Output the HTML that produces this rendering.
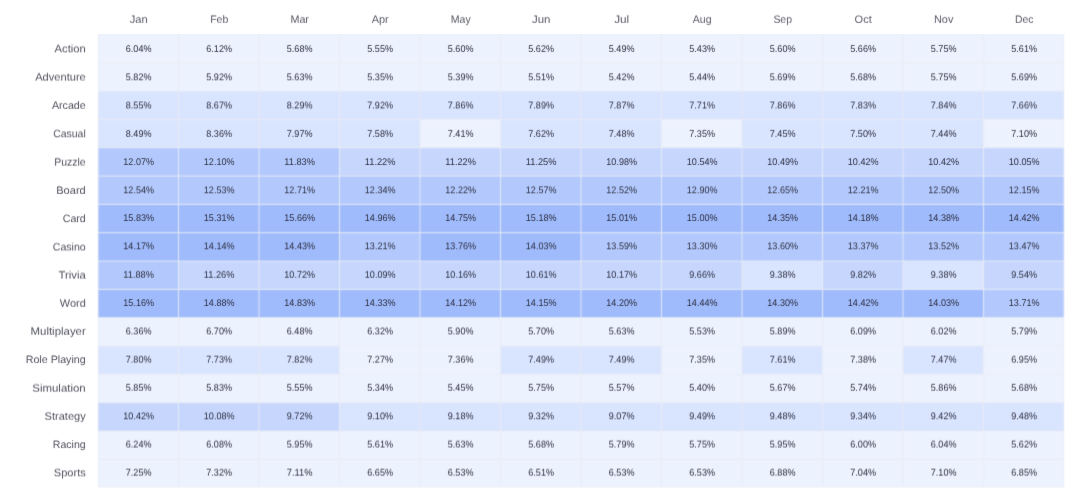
<!DOCTYPE html>
<html lang="en"><head><meta charset="utf-8"><title>Genre share by month</title>
<style>html,body{margin:0;padding:0;background:#fff}body{width:1080px;height:504px;overflow:hidden}svg{display:block}text{font-family:"Liberation Sans",sans-serif;text-rendering:geometricPrecision}.v{font-size:9.7px;fill:#2d2f40;text-anchor:middle}.l{font-size:10.8px;fill:#50515e;text-anchor:end}.h{font-size:10.8px;fill:#585966;text-anchor:middle}</style></head><body>
<svg width="1080" height="504" viewBox="0 0 1080 504">
<defs><filter id="b" x="0" y="0" width="100%" height="100%" filterUnits="userSpaceOnUse" color-interpolation-filters="sRGB"><feConvolveMatrix order="3" kernelMatrix="0.0361 0.1178 0.0361 0.1178 0.3844 0.1178 0.0361 0.1178 0.0361" edgeMode="duplicate" preserveAlpha="false"/></filter><filter id="th" x="0" y="0" width="100%" height="100%" filterUnits="userSpaceOnUse" color-interpolation-filters="sRGB"><feConvolveMatrix order="3" kernelMatrix="0.0096 0.1408 0.0096 0.0468 0.6864 0.0468 0.0036 0.0528 0.0036" edgeMode="duplicate" preserveAlpha="false"/></filter><filter id="t0" x="0" y="0" width="100%" height="100%" filterUnits="userSpaceOnUse" color-interpolation-filters="sRGB"><feConvolveMatrix order="3" kernelMatrix="0.0066 0.0968 0.0066 0.0498 0.7304 0.0498 0.0036 0.0528 0.0036" edgeMode="duplicate" preserveAlpha="false"/></filter><filter id="t1" x="0" y="0" width="100%" height="100%" filterUnits="userSpaceOnUse" color-interpolation-filters="sRGB"><feConvolveMatrix order="3" kernelMatrix="0.0036 0.0528 0.0036 0.0378 0.5544 0.0378 0.0186 0.2728 0.0186" edgeMode="duplicate" preserveAlpha="false"/></filter><filter id="t2" x="0" y="0" width="100%" height="100%" filterUnits="userSpaceOnUse" color-interpolation-filters="sRGB"><feConvolveMatrix order="3" kernelMatrix="0.0306 0.4488 0.0306 0.0258 0.3784 0.0258 0.0036 0.0528 0.0036" edgeMode="duplicate" preserveAlpha="false"/></filter><filter id="t3" x="0" y="0" width="100%" height="100%" filterUnits="userSpaceOnUse" color-interpolation-filters="sRGB"><feConvolveMatrix order="3" kernelMatrix="0.0096 0.1408 0.0096 0.0468 0.6864 0.0468 0.0036 0.0528 0.0036" edgeMode="duplicate" preserveAlpha="false"/></filter><filter id="t4" x="0" y="0" width="100%" height="100%" filterUnits="userSpaceOnUse" color-interpolation-filters="sRGB"><feConvolveMatrix order="3" kernelMatrix="0.0036 0.0528 0.0036 0.0528 0.7744 0.0528 0.0036 0.0528 0.0036" edgeMode="duplicate" preserveAlpha="false"/></filter><filter id="t5" x="0" y="0" width="100%" height="100%" filterUnits="userSpaceOnUse" color-interpolation-filters="sRGB"><feConvolveMatrix order="3" kernelMatrix="0.0036 0.0528 0.0036 0.0378 0.5544 0.0378 0.0186 0.2728 0.0186" edgeMode="duplicate" preserveAlpha="false"/></filter><filter id="t6" x="0" y="0" width="100%" height="100%" filterUnits="userSpaceOnUse" color-interpolation-filters="sRGB"><feConvolveMatrix order="3" kernelMatrix="0.0036 0.0528 0.0036 0.0528 0.7744 0.0528 0.0036 0.0528 0.0036" edgeMode="duplicate" preserveAlpha="false"/></filter><filter id="t7" x="0" y="0" width="100%" height="100%" filterUnits="userSpaceOnUse" color-interpolation-filters="sRGB"><feConvolveMatrix order="3" kernelMatrix="0.0036 0.0528 0.0036 0.0378 0.5544 0.0378 0.0186 0.2728 0.0186" edgeMode="duplicate" preserveAlpha="false"/></filter><filter id="t8" x="0" y="0" width="100%" height="100%" filterUnits="userSpaceOnUse" color-interpolation-filters="sRGB"><feConvolveMatrix order="3" kernelMatrix="0.0156 0.2288 0.0156 0.0408 0.5984 0.0408 0.0036 0.0528 0.0036" edgeMode="duplicate" preserveAlpha="false"/></filter><filter id="t9" x="0" y="0" width="100%" height="100%" filterUnits="userSpaceOnUse" color-interpolation-filters="sRGB"><feConvolveMatrix order="3" kernelMatrix="0.0036 0.0528 0.0036 0.0528 0.7744 0.0528 0.0036 0.0528 0.0036" edgeMode="duplicate" preserveAlpha="false"/></filter><filter id="t10" x="0" y="0" width="100%" height="100%" filterUnits="userSpaceOnUse" color-interpolation-filters="sRGB"><feConvolveMatrix order="3" kernelMatrix="0.0036 0.0528 0.0036 0.0318 0.4664 0.0318 0.0246 0.3608 0.0246" edgeMode="duplicate" preserveAlpha="false"/></filter><filter id="t11" x="0" y="0" width="100%" height="100%" filterUnits="userSpaceOnUse" color-interpolation-filters="sRGB"><feConvolveMatrix order="3" kernelMatrix="0.0216 0.3168 0.0216 0.0348 0.5104 0.0348 0.0036 0.0528 0.0036" edgeMode="duplicate" preserveAlpha="false"/></filter><filter id="t12" x="0" y="0" width="100%" height="100%" filterUnits="userSpaceOnUse" color-interpolation-filters="sRGB"><feConvolveMatrix order="3" kernelMatrix="0.0156 0.2288 0.0156 0.0408 0.5984 0.0408 0.0036 0.0528 0.0036" edgeMode="duplicate" preserveAlpha="false"/></filter><filter id="t13" x="0" y="0" width="100%" height="100%" filterUnits="userSpaceOnUse" color-interpolation-filters="sRGB"><feConvolveMatrix order="3" kernelMatrix="0.0036 0.0528 0.0036 0.0378 0.5544 0.0378 0.0186 0.2728 0.0186" edgeMode="duplicate" preserveAlpha="false"/></filter><filter id="t14" x="0" y="0" width="100%" height="100%" filterUnits="userSpaceOnUse" color-interpolation-filters="sRGB"><feConvolveMatrix order="3" kernelMatrix="0.0036 0.0528 0.0036 0.0258 0.3784 0.0258 0.0306 0.4488 0.0306" edgeMode="duplicate" preserveAlpha="false"/></filter><filter id="t15" x="0" y="0" width="100%" height="100%" filterUnits="userSpaceOnUse" color-interpolation-filters="sRGB"><feConvolveMatrix order="3" kernelMatrix="0.0216 0.3168 0.0216 0.0348 0.5104 0.0348 0.0036 0.0528 0.0036" edgeMode="duplicate" preserveAlpha="false"/></filter><filter id="l0" x="0" y="0" width="100%" height="100%" filterUnits="userSpaceOnUse" color-interpolation-filters="sRGB"><feConvolveMatrix order="3" kernelMatrix="0.0036 0.0528 0.0036 0.0348 0.5104 0.0348 0.0216 0.3168 0.0216" edgeMode="duplicate" preserveAlpha="false"/></filter><filter id="l1" x="0" y="0" width="100%" height="100%" filterUnits="userSpaceOnUse" color-interpolation-filters="sRGB"><feConvolveMatrix order="3" kernelMatrix="0.0246 0.3608 0.0246 0.0318 0.4664 0.0318 0.0036 0.0528 0.0036" edgeMode="duplicate" preserveAlpha="false"/></filter><filter id="l2" x="0" y="0" width="100%" height="100%" filterUnits="userSpaceOnUse" color-interpolation-filters="sRGB"><feConvolveMatrix order="3" kernelMatrix="0.0096 0.1408 0.0096 0.0468 0.6864 0.0468 0.0036 0.0528 0.0036" edgeMode="duplicate" preserveAlpha="false"/></filter><filter id="l3" x="0" y="0" width="100%" height="100%" filterUnits="userSpaceOnUse" color-interpolation-filters="sRGB"><feConvolveMatrix order="3" kernelMatrix="0.0036 0.0528 0.0036 0.0378 0.5544 0.0378 0.0186 0.2728 0.0186" edgeMode="duplicate" preserveAlpha="false"/></filter><filter id="l4" x="0" y="0" width="100%" height="100%" filterUnits="userSpaceOnUse" color-interpolation-filters="sRGB"><feConvolveMatrix order="3" kernelMatrix="0.0216 0.3168 0.0216 0.0348 0.5104 0.0348 0.0036 0.0528 0.0036" edgeMode="duplicate" preserveAlpha="false"/></filter><filter id="l5" x="0" y="0" width="100%" height="100%" filterUnits="userSpaceOnUse" color-interpolation-filters="sRGB"><feConvolveMatrix order="3" kernelMatrix="0.0096 0.1408 0.0096 0.0468 0.6864 0.0468 0.0036 0.0528 0.0036" edgeMode="duplicate" preserveAlpha="false"/></filter><filter id="l6" x="0" y="0" width="100%" height="100%" filterUnits="userSpaceOnUse" color-interpolation-filters="sRGB"><feConvolveMatrix order="3" kernelMatrix="0.0036 0.0528 0.0036 0.0468 0.6864 0.0468 0.0096 0.1408 0.0096" edgeMode="duplicate" preserveAlpha="false"/></filter><filter id="l7" x="0" y="0" width="100%" height="100%" filterUnits="userSpaceOnUse" color-interpolation-filters="sRGB"><feConvolveMatrix order="3" kernelMatrix="0.0306 0.4488 0.0306 0.0258 0.3784 0.0258 0.0036 0.0528 0.0036" edgeMode="duplicate" preserveAlpha="false"/></filter><filter id="l8" x="0" y="0" width="100%" height="100%" filterUnits="userSpaceOnUse" color-interpolation-filters="sRGB"><feConvolveMatrix order="3" kernelMatrix="0.0246 0.3608 0.0246 0.0318 0.4664 0.0318 0.0036 0.0528 0.0036" edgeMode="duplicate" preserveAlpha="false"/></filter><filter id="l9" x="0" y="0" width="100%" height="100%" filterUnits="userSpaceOnUse" color-interpolation-filters="sRGB"><feConvolveMatrix order="3" kernelMatrix="0.0156 0.2288 0.0156 0.0408 0.5984 0.0408 0.0036 0.0528 0.0036" edgeMode="duplicate" preserveAlpha="false"/></filter><filter id="l10" x="0" y="0" width="100%" height="100%" filterUnits="userSpaceOnUse" color-interpolation-filters="sRGB"><feConvolveMatrix order="3" kernelMatrix="0.0156 0.2288 0.0156 0.0408 0.5984 0.0408 0.0036 0.0528 0.0036" edgeMode="duplicate" preserveAlpha="false"/></filter><filter id="l11" x="0" y="0" width="100%" height="100%" filterUnits="userSpaceOnUse" color-interpolation-filters="sRGB"><feConvolveMatrix order="3" kernelMatrix="0.0036 0.0528 0.0036 0.0498 0.7304 0.0498 0.0066 0.0968 0.0066" edgeMode="duplicate" preserveAlpha="false"/></filter><filter id="l12" x="0" y="0" width="100%" height="100%" filterUnits="userSpaceOnUse" color-interpolation-filters="sRGB"><feConvolveMatrix order="3" kernelMatrix="0.0216 0.3168 0.0216 0.0348 0.5104 0.0348 0.0036 0.0528 0.0036" edgeMode="duplicate" preserveAlpha="false"/></filter><filter id="l13" x="0" y="0" width="100%" height="100%" filterUnits="userSpaceOnUse" color-interpolation-filters="sRGB"><feConvolveMatrix order="3" kernelMatrix="0.0156 0.2288 0.0156 0.0408 0.5984 0.0408 0.0036 0.0528 0.0036" edgeMode="duplicate" preserveAlpha="false"/></filter><filter id="l14" x="0" y="0" width="100%" height="100%" filterUnits="userSpaceOnUse" color-interpolation-filters="sRGB"><feConvolveMatrix order="3" kernelMatrix="0.0036 0.0528 0.0036 0.0498 0.7304 0.0498 0.0066 0.0968 0.0066" edgeMode="duplicate" preserveAlpha="false"/></filter><filter id="l15" x="0" y="0" width="100%" height="100%" filterUnits="userSpaceOnUse" color-interpolation-filters="sRGB"><feConvolveMatrix order="3" kernelMatrix="0.0036 0.0528 0.0036 0.0348 0.5104 0.0348 0.0216 0.3168 0.0216" edgeMode="duplicate" preserveAlpha="false"/></filter></defs>
<rect width="1080" height="504" fill="#fff"/>
<clipPath id="c"><rect x="97.80" y="34.00" width="966.50" height="453.60"/></clipPath>
<g clip-path="url(#c)"><g filter="url(#b)">
<rect x="95.00" y="31.40" width="83.55" height="31.38" fill="#ECF2FE"/>
<rect x="178.50" y="31.40" width="80.55" height="31.38" fill="#ECF2FE"/>
<rect x="259.00" y="31.40" width="80.55" height="31.38" fill="#ECF2FE"/>
<rect x="339.50" y="31.40" width="80.55" height="31.38" fill="#ECF2FE"/>
<rect x="420.00" y="31.40" width="80.55" height="31.38" fill="#ECF2FE"/>
<rect x="500.50" y="31.40" width="80.55" height="31.38" fill="#ECF2FE"/>
<rect x="581.00" y="31.40" width="80.55" height="31.38" fill="#ECF2FE"/>
<rect x="661.50" y="31.40" width="80.55" height="31.38" fill="#ECF2FE"/>
<rect x="742.00" y="31.40" width="80.55" height="31.38" fill="#ECF2FE"/>
<rect x="822.50" y="31.40" width="80.55" height="31.38" fill="#ECF2FE"/>
<rect x="903.00" y="31.40" width="80.55" height="31.38" fill="#ECF2FE"/>
<rect x="983.50" y="31.40" width="83.50" height="31.38" fill="#ECF2FE"/>
<rect x="95.00" y="62.73" width="83.55" height="28.38" fill="#ECF2FE"/>
<rect x="178.50" y="62.73" width="80.55" height="28.38" fill="#ECF2FE"/>
<rect x="259.00" y="62.73" width="80.55" height="28.38" fill="#ECF2FE"/>
<rect x="339.50" y="62.73" width="80.55" height="28.38" fill="#ECF2FE"/>
<rect x="420.00" y="62.73" width="80.55" height="28.38" fill="#ECF2FE"/>
<rect x="500.50" y="62.73" width="80.55" height="28.38" fill="#ECF2FE"/>
<rect x="581.00" y="62.73" width="80.55" height="28.38" fill="#ECF2FE"/>
<rect x="661.50" y="62.73" width="80.55" height="28.38" fill="#ECF2FE"/>
<rect x="742.00" y="62.73" width="80.55" height="28.38" fill="#ECF2FE"/>
<rect x="822.50" y="62.73" width="80.55" height="28.38" fill="#ECF2FE"/>
<rect x="903.00" y="62.73" width="80.55" height="28.38" fill="#ECF2FE"/>
<rect x="983.50" y="62.73" width="83.50" height="28.38" fill="#ECF2FE"/>
<rect x="95.00" y="91.07" width="83.55" height="28.38" fill="#D9E4FE"/>
<rect x="178.50" y="91.07" width="80.55" height="28.38" fill="#D9E4FE"/>
<rect x="259.00" y="91.07" width="80.55" height="28.38" fill="#D9E4FE"/>
<rect x="339.50" y="91.07" width="80.55" height="28.38" fill="#D9E4FE"/>
<rect x="420.00" y="91.07" width="80.55" height="28.38" fill="#D9E4FE"/>
<rect x="500.50" y="91.07" width="80.55" height="28.38" fill="#D9E4FE"/>
<rect x="581.00" y="91.07" width="80.55" height="28.38" fill="#D9E4FE"/>
<rect x="661.50" y="91.07" width="80.55" height="28.38" fill="#D9E4FE"/>
<rect x="742.00" y="91.07" width="80.55" height="28.38" fill="#D9E4FE"/>
<rect x="822.50" y="91.07" width="80.55" height="28.38" fill="#D9E4FE"/>
<rect x="903.00" y="91.07" width="80.55" height="28.38" fill="#D9E4FE"/>
<rect x="983.50" y="91.07" width="83.50" height="28.38" fill="#D9E4FE"/>
<rect x="95.00" y="119.40" width="83.55" height="28.38" fill="#D9E4FE"/>
<rect x="178.50" y="119.40" width="80.55" height="28.38" fill="#D9E4FE"/>
<rect x="259.00" y="119.40" width="80.55" height="28.38" fill="#D9E4FE"/>
<rect x="339.50" y="119.40" width="80.55" height="28.38" fill="#D9E4FE"/>
<rect x="420.00" y="119.40" width="80.55" height="28.38" fill="#ECF2FE"/>
<rect x="500.50" y="119.40" width="80.55" height="28.38" fill="#D9E4FE"/>
<rect x="581.00" y="119.40" width="80.55" height="28.38" fill="#D9E4FE"/>
<rect x="661.50" y="119.40" width="80.55" height="28.38" fill="#ECF2FE"/>
<rect x="742.00" y="119.40" width="80.55" height="28.38" fill="#D9E4FE"/>
<rect x="822.50" y="119.40" width="80.55" height="28.38" fill="#D9E4FE"/>
<rect x="903.00" y="119.40" width="80.55" height="28.38" fill="#D9E4FE"/>
<rect x="983.50" y="119.40" width="83.50" height="28.38" fill="#ECF2FE"/>
<rect x="95.00" y="147.74" width="83.55" height="28.38" fill="#B3C9FD"/>
<rect x="178.50" y="147.74" width="80.55" height="28.38" fill="#B3C9FD"/>
<rect x="259.00" y="147.74" width="80.55" height="28.38" fill="#B3C9FD"/>
<rect x="339.50" y="147.74" width="80.55" height="28.38" fill="#C6D6FD"/>
<rect x="420.00" y="147.74" width="80.55" height="28.38" fill="#C6D6FD"/>
<rect x="500.50" y="147.74" width="80.55" height="28.38" fill="#C6D6FD"/>
<rect x="581.00" y="147.74" width="80.55" height="28.38" fill="#C6D6FD"/>
<rect x="661.50" y="147.74" width="80.55" height="28.38" fill="#C6D6FD"/>
<rect x="742.00" y="147.74" width="80.55" height="28.38" fill="#C6D6FD"/>
<rect x="822.50" y="147.74" width="80.55" height="28.38" fill="#C6D6FD"/>
<rect x="903.00" y="147.74" width="80.55" height="28.38" fill="#C6D6FD"/>
<rect x="983.50" y="147.74" width="83.50" height="28.38" fill="#C6D6FD"/>
<rect x="95.00" y="176.07" width="83.55" height="28.38" fill="#B3C9FD"/>
<rect x="178.50" y="176.07" width="80.55" height="28.38" fill="#B3C9FD"/>
<rect x="259.00" y="176.07" width="80.55" height="28.38" fill="#B3C9FD"/>
<rect x="339.50" y="176.07" width="80.55" height="28.38" fill="#B3C9FD"/>
<rect x="420.00" y="176.07" width="80.55" height="28.38" fill="#B3C9FD"/>
<rect x="500.50" y="176.07" width="80.55" height="28.38" fill="#B3C9FD"/>
<rect x="581.00" y="176.07" width="80.55" height="28.38" fill="#B3C9FD"/>
<rect x="661.50" y="176.07" width="80.55" height="28.38" fill="#B3C9FD"/>
<rect x="742.00" y="176.07" width="80.55" height="28.38" fill="#B3C9FD"/>
<rect x="822.50" y="176.07" width="80.55" height="28.38" fill="#B3C9FD"/>
<rect x="903.00" y="176.07" width="80.55" height="28.38" fill="#B3C9FD"/>
<rect x="983.50" y="176.07" width="83.50" height="28.38" fill="#B3C9FD"/>
<rect x="95.00" y="204.41" width="83.55" height="28.38" fill="#9FBBFC"/>
<rect x="178.50" y="204.41" width="80.55" height="28.38" fill="#9FBBFC"/>
<rect x="259.00" y="204.41" width="80.55" height="28.38" fill="#9FBBFC"/>
<rect x="339.50" y="204.41" width="80.55" height="28.38" fill="#9FBBFC"/>
<rect x="420.00" y="204.41" width="80.55" height="28.38" fill="#9FBBFC"/>
<rect x="500.50" y="204.41" width="80.55" height="28.38" fill="#9FBBFC"/>
<rect x="581.00" y="204.41" width="80.55" height="28.38" fill="#9FBBFC"/>
<rect x="661.50" y="204.41" width="80.55" height="28.38" fill="#9FBBFC"/>
<rect x="742.00" y="204.41" width="80.55" height="28.38" fill="#9FBBFC"/>
<rect x="822.50" y="204.41" width="80.55" height="28.38" fill="#9FBBFC"/>
<rect x="903.00" y="204.41" width="80.55" height="28.38" fill="#9FBBFC"/>
<rect x="983.50" y="204.41" width="83.50" height="28.38" fill="#9FBBFC"/>
<rect x="95.00" y="232.74" width="83.55" height="28.38" fill="#9FBBFC"/>
<rect x="178.50" y="232.74" width="80.55" height="28.38" fill="#9FBBFC"/>
<rect x="259.00" y="232.74" width="80.55" height="28.38" fill="#9FBBFC"/>
<rect x="339.50" y="232.74" width="80.55" height="28.38" fill="#B3C9FD"/>
<rect x="420.00" y="232.74" width="80.55" height="28.38" fill="#9FBBFC"/>
<rect x="500.50" y="232.74" width="80.55" height="28.38" fill="#9FBBFC"/>
<rect x="581.00" y="232.74" width="80.55" height="28.38" fill="#B3C9FD"/>
<rect x="661.50" y="232.74" width="80.55" height="28.38" fill="#B3C9FD"/>
<rect x="742.00" y="232.74" width="80.55" height="28.38" fill="#B3C9FD"/>
<rect x="822.50" y="232.74" width="80.55" height="28.38" fill="#B3C9FD"/>
<rect x="903.00" y="232.74" width="80.55" height="28.38" fill="#B3C9FD"/>
<rect x="983.50" y="232.74" width="83.50" height="28.38" fill="#B3C9FD"/>
<rect x="95.00" y="261.07" width="83.55" height="28.38" fill="#B3C9FD"/>
<rect x="178.50" y="261.07" width="80.55" height="28.38" fill="#C6D6FD"/>
<rect x="259.00" y="261.07" width="80.55" height="28.38" fill="#C6D6FD"/>
<rect x="339.50" y="261.07" width="80.55" height="28.38" fill="#C6D6FD"/>
<rect x="420.00" y="261.07" width="80.55" height="28.38" fill="#C6D6FD"/>
<rect x="500.50" y="261.07" width="80.55" height="28.38" fill="#C6D6FD"/>
<rect x="581.00" y="261.07" width="80.55" height="28.38" fill="#C6D6FD"/>
<rect x="661.50" y="261.07" width="80.55" height="28.38" fill="#C6D6FD"/>
<rect x="742.00" y="261.07" width="80.55" height="28.38" fill="#D9E4FE"/>
<rect x="822.50" y="261.07" width="80.55" height="28.38" fill="#C6D6FD"/>
<rect x="903.00" y="261.07" width="80.55" height="28.38" fill="#D9E4FE"/>
<rect x="983.50" y="261.07" width="83.50" height="28.38" fill="#C6D6FD"/>
<rect x="95.00" y="289.41" width="83.55" height="28.38" fill="#9FBBFC"/>
<rect x="178.50" y="289.41" width="80.55" height="28.38" fill="#9FBBFC"/>
<rect x="259.00" y="289.41" width="80.55" height="28.38" fill="#9FBBFC"/>
<rect x="339.50" y="289.41" width="80.55" height="28.38" fill="#9FBBFC"/>
<rect x="420.00" y="289.41" width="80.55" height="28.38" fill="#9FBBFC"/>
<rect x="500.50" y="289.41" width="80.55" height="28.38" fill="#9FBBFC"/>
<rect x="581.00" y="289.41" width="80.55" height="28.38" fill="#9FBBFC"/>
<rect x="661.50" y="289.41" width="80.55" height="28.38" fill="#9FBBFC"/>
<rect x="742.00" y="289.41" width="80.55" height="28.38" fill="#9FBBFC"/>
<rect x="822.50" y="289.41" width="80.55" height="28.38" fill="#9FBBFC"/>
<rect x="903.00" y="289.41" width="80.55" height="28.38" fill="#9FBBFC"/>
<rect x="983.50" y="289.41" width="83.50" height="28.38" fill="#B3C9FD"/>
<rect x="95.00" y="317.74" width="83.55" height="28.38" fill="#ECF2FE"/>
<rect x="178.50" y="317.74" width="80.55" height="28.38" fill="#ECF2FE"/>
<rect x="259.00" y="317.74" width="80.55" height="28.38" fill="#ECF2FE"/>
<rect x="339.50" y="317.74" width="80.55" height="28.38" fill="#ECF2FE"/>
<rect x="420.00" y="317.74" width="80.55" height="28.38" fill="#ECF2FE"/>
<rect x="500.50" y="317.74" width="80.55" height="28.38" fill="#ECF2FE"/>
<rect x="581.00" y="317.74" width="80.55" height="28.38" fill="#ECF2FE"/>
<rect x="661.50" y="317.74" width="80.55" height="28.38" fill="#ECF2FE"/>
<rect x="742.00" y="317.74" width="80.55" height="28.38" fill="#ECF2FE"/>
<rect x="822.50" y="317.74" width="80.55" height="28.38" fill="#ECF2FE"/>
<rect x="903.00" y="317.74" width="80.55" height="28.38" fill="#ECF2FE"/>
<rect x="983.50" y="317.74" width="83.50" height="28.38" fill="#ECF2FE"/>
<rect x="95.00" y="346.08" width="83.55" height="28.38" fill="#D9E4FE"/>
<rect x="178.50" y="346.08" width="80.55" height="28.38" fill="#D9E4FE"/>
<rect x="259.00" y="346.08" width="80.55" height="28.38" fill="#D9E4FE"/>
<rect x="339.50" y="346.08" width="80.55" height="28.38" fill="#ECF2FE"/>
<rect x="420.00" y="346.08" width="80.55" height="28.38" fill="#ECF2FE"/>
<rect x="500.50" y="346.08" width="80.55" height="28.38" fill="#D9E4FE"/>
<rect x="581.00" y="346.08" width="80.55" height="28.38" fill="#D9E4FE"/>
<rect x="661.50" y="346.08" width="80.55" height="28.38" fill="#ECF2FE"/>
<rect x="742.00" y="346.08" width="80.55" height="28.38" fill="#D9E4FE"/>
<rect x="822.50" y="346.08" width="80.55" height="28.38" fill="#ECF2FE"/>
<rect x="903.00" y="346.08" width="80.55" height="28.38" fill="#D9E4FE"/>
<rect x="983.50" y="346.08" width="83.50" height="28.38" fill="#ECF2FE"/>
<rect x="95.00" y="374.41" width="83.55" height="28.38" fill="#ECF2FE"/>
<rect x="178.50" y="374.41" width="80.55" height="28.38" fill="#ECF2FE"/>
<rect x="259.00" y="374.41" width="80.55" height="28.38" fill="#ECF2FE"/>
<rect x="339.50" y="374.41" width="80.55" height="28.38" fill="#ECF2FE"/>
<rect x="420.00" y="374.41" width="80.55" height="28.38" fill="#ECF2FE"/>
<rect x="500.50" y="374.41" width="80.55" height="28.38" fill="#ECF2FE"/>
<rect x="581.00" y="374.41" width="80.55" height="28.38" fill="#ECF2FE"/>
<rect x="661.50" y="374.41" width="80.55" height="28.38" fill="#ECF2FE"/>
<rect x="742.00" y="374.41" width="80.55" height="28.38" fill="#ECF2FE"/>
<rect x="822.50" y="374.41" width="80.55" height="28.38" fill="#ECF2FE"/>
<rect x="903.00" y="374.41" width="80.55" height="28.38" fill="#ECF2FE"/>
<rect x="983.50" y="374.41" width="83.50" height="28.38" fill="#ECF2FE"/>
<rect x="95.00" y="402.75" width="83.55" height="28.38" fill="#C6D6FD"/>
<rect x="178.50" y="402.75" width="80.55" height="28.38" fill="#C6D6FD"/>
<rect x="259.00" y="402.75" width="80.55" height="28.38" fill="#C6D6FD"/>
<rect x="339.50" y="402.75" width="80.55" height="28.38" fill="#D9E4FE"/>
<rect x="420.00" y="402.75" width="80.55" height="28.38" fill="#D9E4FE"/>
<rect x="500.50" y="402.75" width="80.55" height="28.38" fill="#D9E4FE"/>
<rect x="581.00" y="402.75" width="80.55" height="28.38" fill="#D9E4FE"/>
<rect x="661.50" y="402.75" width="80.55" height="28.38" fill="#D9E4FE"/>
<rect x="742.00" y="402.75" width="80.55" height="28.38" fill="#D9E4FE"/>
<rect x="822.50" y="402.75" width="80.55" height="28.38" fill="#D9E4FE"/>
<rect x="903.00" y="402.75" width="80.55" height="28.38" fill="#D9E4FE"/>
<rect x="983.50" y="402.75" width="83.50" height="28.38" fill="#D9E4FE"/>
<rect x="95.00" y="431.08" width="83.55" height="28.38" fill="#ECF2FE"/>
<rect x="178.50" y="431.08" width="80.55" height="28.38" fill="#ECF2FE"/>
<rect x="259.00" y="431.08" width="80.55" height="28.38" fill="#ECF2FE"/>
<rect x="339.50" y="431.08" width="80.55" height="28.38" fill="#ECF2FE"/>
<rect x="420.00" y="431.08" width="80.55" height="28.38" fill="#ECF2FE"/>
<rect x="500.50" y="431.08" width="80.55" height="28.38" fill="#ECF2FE"/>
<rect x="581.00" y="431.08" width="80.55" height="28.38" fill="#ECF2FE"/>
<rect x="661.50" y="431.08" width="80.55" height="28.38" fill="#ECF2FE"/>
<rect x="742.00" y="431.08" width="80.55" height="28.38" fill="#ECF2FE"/>
<rect x="822.50" y="431.08" width="80.55" height="28.38" fill="#ECF2FE"/>
<rect x="903.00" y="431.08" width="80.55" height="28.38" fill="#ECF2FE"/>
<rect x="983.50" y="431.08" width="83.50" height="28.38" fill="#ECF2FE"/>
<rect x="95.00" y="459.42" width="83.55" height="31.33" fill="#ECF2FE"/>
<rect x="178.50" y="459.42" width="80.55" height="31.33" fill="#ECF2FE"/>
<rect x="259.00" y="459.42" width="80.55" height="31.33" fill="#ECF2FE"/>
<rect x="339.50" y="459.42" width="80.55" height="31.33" fill="#ECF2FE"/>
<rect x="420.00" y="459.42" width="80.55" height="31.33" fill="#ECF2FE"/>
<rect x="500.50" y="459.42" width="80.55" height="31.33" fill="#ECF2FE"/>
<rect x="581.00" y="459.42" width="80.55" height="31.33" fill="#ECF2FE"/>
<rect x="661.50" y="459.42" width="80.55" height="31.33" fill="#ECF2FE"/>
<rect x="742.00" y="459.42" width="80.55" height="31.33" fill="#ECF2FE"/>
<rect x="822.50" y="459.42" width="80.55" height="31.33" fill="#ECF2FE"/>
<rect x="903.00" y="459.42" width="80.55" height="31.33" fill="#ECF2FE"/>
<rect x="983.50" y="459.42" width="83.50" height="31.33" fill="#ECF2FE"/>
<rect x="97.80" y="30.40" width="0.90" height="461.35" fill="#EEF0F5"/>
<rect x="178.05" y="30.40" width="0.90" height="461.35" fill="#E9ECF3"/>
<rect x="258.55" y="30.40" width="0.90" height="461.35" fill="#E9ECF3"/>
<rect x="339.05" y="30.40" width="0.90" height="461.35" fill="#E9ECF3"/>
<rect x="419.55" y="30.40" width="0.90" height="461.35" fill="#E9ECF3"/>
<rect x="500.05" y="30.40" width="0.90" height="461.35" fill="#E9ECF3"/>
<rect x="580.55" y="30.40" width="0.90" height="461.35" fill="#E9ECF3"/>
<rect x="661.05" y="30.40" width="0.90" height="461.35" fill="#E9ECF3"/>
<rect x="741.55" y="30.40" width="0.90" height="461.35" fill="#E9ECF3"/>
<rect x="822.05" y="30.40" width="0.90" height="461.35" fill="#E9ECF3"/>
<rect x="902.55" y="30.40" width="0.90" height="461.35" fill="#E9ECF3"/>
<rect x="983.05" y="30.40" width="0.90" height="461.35" fill="#E9ECF3"/>
<rect x="1063.45" y="30.40" width="0.90" height="461.35" fill="#EEF0F5"/>
<rect x="94.00" y="34.00" width="974.00" height="0.90" fill="#EEF0F5"/>
<rect x="94.00" y="62.28" width="974.00" height="0.90" fill="#E9ECF3"/>
<rect x="94.00" y="90.62" width="974.00" height="0.90" fill="#E9ECF3"/>
<rect x="94.00" y="118.95" width="974.00" height="0.90" fill="#E9ECF3"/>
<rect x="94.00" y="147.29" width="974.00" height="0.90" fill="#E9ECF3"/>
<rect x="94.00" y="175.62" width="974.00" height="0.90" fill="#E9ECF3"/>
<rect x="94.00" y="203.96" width="974.00" height="0.90" fill="#E9ECF3"/>
<rect x="94.00" y="232.29" width="974.00" height="0.90" fill="#E9ECF3"/>
<rect x="94.00" y="260.62" width="974.00" height="0.90" fill="#E9ECF3"/>
<rect x="94.00" y="288.96" width="974.00" height="0.90" fill="#E9ECF3"/>
<rect x="94.00" y="317.29" width="974.00" height="0.90" fill="#E9ECF3"/>
<rect x="94.00" y="345.63" width="974.00" height="0.90" fill="#E9ECF3"/>
<rect x="94.00" y="373.96" width="974.00" height="0.90" fill="#E9ECF3"/>
<rect x="94.00" y="402.30" width="974.00" height="0.90" fill="#E9ECF3"/>
<rect x="94.00" y="430.63" width="974.00" height="0.90" fill="#E9ECF3"/>
<rect x="94.00" y="458.97" width="974.00" height="0.90" fill="#E9ECF3"/>
<rect x="94.00" y="486.75" width="974.00" height="0.90" fill="#EEF0F5"/>
</g></g>
<g filter="url(#th)">
<text class="h" x="138.70" y="23" lengthAdjust="spacingAndGlyphs" textLength="17.99">Jan</text>
<text class="h" x="219.20" y="23" lengthAdjust="spacingAndGlyphs" textLength="18.13">Feb</text>
<text class="h" x="299.70" y="23" lengthAdjust="spacingAndGlyphs" textLength="18.54">Mar</text>
<text class="h" x="380.20" y="23" lengthAdjust="spacingAndGlyphs" textLength="16.99">Apr</text>
<text class="h" x="460.70" y="23" lengthAdjust="spacingAndGlyphs" textLength="19.95">May</text>
<text class="h" x="541.20" y="23" lengthAdjust="spacingAndGlyphs" textLength="18.46">Jun</text>
<text class="h" x="621.70" y="23" lengthAdjust="spacingAndGlyphs" textLength="15.03">Jul</text>
<text class="h" x="702.20" y="23" lengthAdjust="spacingAndGlyphs" textLength="18.71">Aug</text>
<text class="h" x="782.70" y="23" lengthAdjust="spacingAndGlyphs" textLength="18.62">Sep</text>
<text class="h" x="863.20" y="23" lengthAdjust="spacingAndGlyphs" textLength="17.13">Oct</text>
<text class="h" x="943.70" y="23" lengthAdjust="spacingAndGlyphs" textLength="19.46">Nov</text>
<text class="h" x="1024.20" y="23" lengthAdjust="spacingAndGlyphs" textLength="18.41">Dec</text>
</g>
<g filter="url(#l0)"><text class="l" x="85.75" y="52" lengthAdjust="spacingAndGlyphs" textLength="31.16">Action</text></g>
<g filter="url(#t0)">
<text class="v" x="138.65" y="52" lengthAdjust="spacingAndGlyphs" textLength="25.64">6.04%</text>
<text class="v" x="219.15" y="52" lengthAdjust="spacingAndGlyphs" textLength="25.64">6.12%</text>
<text class="v" x="299.65" y="52" lengthAdjust="spacingAndGlyphs" textLength="25.64">5.68%</text>
<text class="v" x="380.15" y="52" lengthAdjust="spacingAndGlyphs" textLength="25.64">5.55%</text>
<text class="v" x="460.65" y="52" lengthAdjust="spacingAndGlyphs" textLength="25.64">5.60%</text>
<text class="v" x="541.15" y="52" lengthAdjust="spacingAndGlyphs" textLength="25.64">5.62%</text>
<text class="v" x="621.65" y="52" lengthAdjust="spacingAndGlyphs" textLength="25.64">5.49%</text>
<text class="v" x="702.15" y="52" lengthAdjust="spacingAndGlyphs" textLength="25.64">5.43%</text>
<text class="v" x="782.65" y="52" lengthAdjust="spacingAndGlyphs" textLength="25.64">5.60%</text>
<text class="v" x="863.15" y="52" lengthAdjust="spacingAndGlyphs" textLength="25.64">5.66%</text>
<text class="v" x="943.65" y="52" lengthAdjust="spacingAndGlyphs" textLength="25.64">5.75%</text>
<text class="v" x="1024.15" y="52" lengthAdjust="spacingAndGlyphs" textLength="25.64">5.61%</text>
</g>
<g filter="url(#l1)"><text class="l" x="85.75" y="81" lengthAdjust="spacingAndGlyphs" textLength="50.52">Adventure</text></g>
<g filter="url(#t1)">
<text class="v" x="138.65" y="80" lengthAdjust="spacingAndGlyphs" textLength="25.64">5.82%</text>
<text class="v" x="219.15" y="80" lengthAdjust="spacingAndGlyphs" textLength="25.64">5.92%</text>
<text class="v" x="299.65" y="80" lengthAdjust="spacingAndGlyphs" textLength="25.64">5.63%</text>
<text class="v" x="380.15" y="80" lengthAdjust="spacingAndGlyphs" textLength="25.64">5.35%</text>
<text class="v" x="460.65" y="80" lengthAdjust="spacingAndGlyphs" textLength="25.64">5.39%</text>
<text class="v" x="541.15" y="80" lengthAdjust="spacingAndGlyphs" textLength="25.64">5.51%</text>
<text class="v" x="621.65" y="80" lengthAdjust="spacingAndGlyphs" textLength="25.64">5.42%</text>
<text class="v" x="702.15" y="80" lengthAdjust="spacingAndGlyphs" textLength="25.64">5.44%</text>
<text class="v" x="782.65" y="80" lengthAdjust="spacingAndGlyphs" textLength="25.64">5.69%</text>
<text class="v" x="863.15" y="80" lengthAdjust="spacingAndGlyphs" textLength="25.64">5.68%</text>
<text class="v" x="943.65" y="80" lengthAdjust="spacingAndGlyphs" textLength="25.64">5.75%</text>
<text class="v" x="1024.15" y="80" lengthAdjust="spacingAndGlyphs" textLength="25.64">5.69%</text>
</g>
<g filter="url(#l2)"><text class="l" x="85.75" y="109" lengthAdjust="spacingAndGlyphs" textLength="33.83">Arcade</text></g>
<g filter="url(#t2)">
<text class="v" x="138.65" y="109" lengthAdjust="spacingAndGlyphs" textLength="25.64">8.55%</text>
<text class="v" x="219.15" y="109" lengthAdjust="spacingAndGlyphs" textLength="25.64">8.67%</text>
<text class="v" x="299.65" y="109" lengthAdjust="spacingAndGlyphs" textLength="25.64">8.29%</text>
<text class="v" x="380.15" y="109" lengthAdjust="spacingAndGlyphs" textLength="25.64">7.92%</text>
<text class="v" x="460.65" y="109" lengthAdjust="spacingAndGlyphs" textLength="25.64">7.86%</text>
<text class="v" x="541.15" y="109" lengthAdjust="spacingAndGlyphs" textLength="25.64">7.89%</text>
<text class="v" x="621.65" y="109" lengthAdjust="spacingAndGlyphs" textLength="25.64">7.87%</text>
<text class="v" x="702.15" y="109" lengthAdjust="spacingAndGlyphs" textLength="25.64">7.71%</text>
<text class="v" x="782.65" y="109" lengthAdjust="spacingAndGlyphs" textLength="25.64">7.86%</text>
<text class="v" x="863.15" y="109" lengthAdjust="spacingAndGlyphs" textLength="25.64">7.83%</text>
<text class="v" x="943.65" y="109" lengthAdjust="spacingAndGlyphs" textLength="25.64">7.84%</text>
<text class="v" x="1024.15" y="109" lengthAdjust="spacingAndGlyphs" textLength="25.64">7.66%</text>
</g>
<g filter="url(#l3)"><text class="l" x="85.75" y="137" lengthAdjust="spacingAndGlyphs" textLength="32.60">Casual</text></g>
<g filter="url(#t3)">
<text class="v" x="138.65" y="137" lengthAdjust="spacingAndGlyphs" textLength="25.64">8.49%</text>
<text class="v" x="219.15" y="137" lengthAdjust="spacingAndGlyphs" textLength="25.64">8.36%</text>
<text class="v" x="299.65" y="137" lengthAdjust="spacingAndGlyphs" textLength="25.64">7.97%</text>
<text class="v" x="380.15" y="137" lengthAdjust="spacingAndGlyphs" textLength="25.64">7.58%</text>
<text class="v" x="460.65" y="137" lengthAdjust="spacingAndGlyphs" textLength="25.64">7.41%</text>
<text class="v" x="541.15" y="137" lengthAdjust="spacingAndGlyphs" textLength="25.64">7.62%</text>
<text class="v" x="621.65" y="137" lengthAdjust="spacingAndGlyphs" textLength="25.64">7.48%</text>
<text class="v" x="702.15" y="137" lengthAdjust="spacingAndGlyphs" textLength="25.64">7.35%</text>
<text class="v" x="782.65" y="137" lengthAdjust="spacingAndGlyphs" textLength="25.64">7.45%</text>
<text class="v" x="863.15" y="137" lengthAdjust="spacingAndGlyphs" textLength="25.64">7.50%</text>
<text class="v" x="943.65" y="137" lengthAdjust="spacingAndGlyphs" textLength="25.64">7.44%</text>
<text class="v" x="1024.15" y="137" lengthAdjust="spacingAndGlyphs" textLength="25.64">7.10%</text>
</g>
<g filter="url(#l4)"><text class="l" x="85.75" y="166" lengthAdjust="spacingAndGlyphs" textLength="31.60">Puzzle</text></g>
<g filter="url(#t4)">
<text class="v" x="138.65" y="165" lengthAdjust="spacingAndGlyphs" textLength="30.61">12.07%</text>
<text class="v" x="219.15" y="165" lengthAdjust="spacingAndGlyphs" textLength="30.61">12.10%</text>
<text class="v" x="299.65" y="165" lengthAdjust="spacingAndGlyphs" textLength="30.61">11.83%</text>
<text class="v" x="380.15" y="165" lengthAdjust="spacingAndGlyphs" textLength="30.61">11.22%</text>
<text class="v" x="460.65" y="165" lengthAdjust="spacingAndGlyphs" textLength="30.61">11.22%</text>
<text class="v" x="541.15" y="165" lengthAdjust="spacingAndGlyphs" textLength="30.61">11.25%</text>
<text class="v" x="621.65" y="165" lengthAdjust="spacingAndGlyphs" textLength="30.61">10.98%</text>
<text class="v" x="702.15" y="165" lengthAdjust="spacingAndGlyphs" textLength="30.61">10.54%</text>
<text class="v" x="782.65" y="165" lengthAdjust="spacingAndGlyphs" textLength="30.61">10.49%</text>
<text class="v" x="863.15" y="165" lengthAdjust="spacingAndGlyphs" textLength="30.61">10.42%</text>
<text class="v" x="943.65" y="165" lengthAdjust="spacingAndGlyphs" textLength="30.61">10.42%</text>
<text class="v" x="1024.15" y="165" lengthAdjust="spacingAndGlyphs" textLength="30.61">10.05%</text>
</g>
<g filter="url(#l5)"><text class="l" x="85.75" y="194" lengthAdjust="spacingAndGlyphs" textLength="29.56">Board</text></g>
<g filter="url(#t5)">
<text class="v" x="138.65" y="193" lengthAdjust="spacingAndGlyphs" textLength="30.61">12.54%</text>
<text class="v" x="219.15" y="193" lengthAdjust="spacingAndGlyphs" textLength="30.61">12.53%</text>
<text class="v" x="299.65" y="193" lengthAdjust="spacingAndGlyphs" textLength="30.61">12.71%</text>
<text class="v" x="380.15" y="193" lengthAdjust="spacingAndGlyphs" textLength="30.61">12.34%</text>
<text class="v" x="460.65" y="193" lengthAdjust="spacingAndGlyphs" textLength="30.61">12.22%</text>
<text class="v" x="541.15" y="193" lengthAdjust="spacingAndGlyphs" textLength="30.61">12.57%</text>
<text class="v" x="621.65" y="193" lengthAdjust="spacingAndGlyphs" textLength="30.61">12.52%</text>
<text class="v" x="702.15" y="193" lengthAdjust="spacingAndGlyphs" textLength="30.61">12.90%</text>
<text class="v" x="782.65" y="193" lengthAdjust="spacingAndGlyphs" textLength="30.61">12.65%</text>
<text class="v" x="863.15" y="193" lengthAdjust="spacingAndGlyphs" textLength="30.61">12.21%</text>
<text class="v" x="943.65" y="193" lengthAdjust="spacingAndGlyphs" textLength="30.61">12.50%</text>
<text class="v" x="1024.15" y="193" lengthAdjust="spacingAndGlyphs" textLength="30.61">12.15%</text>
</g>
<g filter="url(#l6)"><text class="l" x="85.75" y="222" lengthAdjust="spacingAndGlyphs" textLength="23.04">Card</text></g>
<g filter="url(#t6)">
<text class="v" x="138.65" y="221" lengthAdjust="spacingAndGlyphs" textLength="30.61">15.83%</text>
<text class="v" x="219.15" y="221" lengthAdjust="spacingAndGlyphs" textLength="30.61">15.31%</text>
<text class="v" x="299.65" y="221" lengthAdjust="spacingAndGlyphs" textLength="30.61">15.66%</text>
<text class="v" x="380.15" y="221" lengthAdjust="spacingAndGlyphs" textLength="30.61">14.96%</text>
<text class="v" x="460.65" y="221" lengthAdjust="spacingAndGlyphs" textLength="30.61">14.75%</text>
<text class="v" x="541.15" y="221" lengthAdjust="spacingAndGlyphs" textLength="30.61">15.18%</text>
<text class="v" x="621.65" y="221" lengthAdjust="spacingAndGlyphs" textLength="30.61">15.01%</text>
<text class="v" x="702.15" y="221" lengthAdjust="spacingAndGlyphs" textLength="30.61">15.00%</text>
<text class="v" x="782.65" y="221" lengthAdjust="spacingAndGlyphs" textLength="30.61">14.35%</text>
<text class="v" x="863.15" y="221" lengthAdjust="spacingAndGlyphs" textLength="30.61">14.18%</text>
<text class="v" x="943.65" y="221" lengthAdjust="spacingAndGlyphs" textLength="30.61">14.38%</text>
<text class="v" x="1024.15" y="221" lengthAdjust="spacingAndGlyphs" textLength="30.61">14.42%</text>
</g>
<g filter="url(#l7)"><text class="l" x="85.75" y="251" lengthAdjust="spacingAndGlyphs" textLength="32.97">Casino</text></g>
<g filter="url(#t7)">
<text class="v" x="138.65" y="249" lengthAdjust="spacingAndGlyphs" textLength="30.61">14.17%</text>
<text class="v" x="219.15" y="249" lengthAdjust="spacingAndGlyphs" textLength="30.61">14.14%</text>
<text class="v" x="299.65" y="249" lengthAdjust="spacingAndGlyphs" textLength="30.61">14.43%</text>
<text class="v" x="380.15" y="249" lengthAdjust="spacingAndGlyphs" textLength="30.61">13.21%</text>
<text class="v" x="460.65" y="249" lengthAdjust="spacingAndGlyphs" textLength="30.61">13.76%</text>
<text class="v" x="541.15" y="249" lengthAdjust="spacingAndGlyphs" textLength="30.61">14.03%</text>
<text class="v" x="621.65" y="249" lengthAdjust="spacingAndGlyphs" textLength="30.61">13.59%</text>
<text class="v" x="702.15" y="249" lengthAdjust="spacingAndGlyphs" textLength="30.61">13.30%</text>
<text class="v" x="782.65" y="249" lengthAdjust="spacingAndGlyphs" textLength="30.61">13.60%</text>
<text class="v" x="863.15" y="249" lengthAdjust="spacingAndGlyphs" textLength="30.61">13.37%</text>
<text class="v" x="943.65" y="249" lengthAdjust="spacingAndGlyphs" textLength="30.61">13.52%</text>
<text class="v" x="1024.15" y="249" lengthAdjust="spacingAndGlyphs" textLength="30.61">13.47%</text>
</g>
<g filter="url(#l8)"><text class="l" x="85.75" y="279" lengthAdjust="spacingAndGlyphs" textLength="27.34">Trivia</text></g>
<g filter="url(#t8)">
<text class="v" x="138.65" y="278" lengthAdjust="spacingAndGlyphs" textLength="30.61">11.88%</text>
<text class="v" x="219.15" y="278" lengthAdjust="spacingAndGlyphs" textLength="30.61">11.26%</text>
<text class="v" x="299.65" y="278" lengthAdjust="spacingAndGlyphs" textLength="30.61">10.72%</text>
<text class="v" x="380.15" y="278" lengthAdjust="spacingAndGlyphs" textLength="30.61">10.09%</text>
<text class="v" x="460.65" y="278" lengthAdjust="spacingAndGlyphs" textLength="30.61">10.16%</text>
<text class="v" x="541.15" y="278" lengthAdjust="spacingAndGlyphs" textLength="30.61">10.61%</text>
<text class="v" x="621.65" y="278" lengthAdjust="spacingAndGlyphs" textLength="30.61">10.17%</text>
<text class="v" x="702.15" y="278" lengthAdjust="spacingAndGlyphs" textLength="25.64">9.66%</text>
<text class="v" x="782.65" y="278" lengthAdjust="spacingAndGlyphs" textLength="25.64">9.38%</text>
<text class="v" x="863.15" y="278" lengthAdjust="spacingAndGlyphs" textLength="25.64">9.82%</text>
<text class="v" x="943.65" y="278" lengthAdjust="spacingAndGlyphs" textLength="25.64">9.38%</text>
<text class="v" x="1024.15" y="278" lengthAdjust="spacingAndGlyphs" textLength="25.64">9.54%</text>
</g>
<g filter="url(#l9)"><text class="l" x="85.75" y="307" lengthAdjust="spacingAndGlyphs" textLength="25.99">Word</text></g>
<g filter="url(#t9)">
<text class="v" x="138.65" y="306" lengthAdjust="spacingAndGlyphs" textLength="30.61">15.16%</text>
<text class="v" x="219.15" y="306" lengthAdjust="spacingAndGlyphs" textLength="30.61">14.88%</text>
<text class="v" x="299.65" y="306" lengthAdjust="spacingAndGlyphs" textLength="30.61">14.83%</text>
<text class="v" x="380.15" y="306" lengthAdjust="spacingAndGlyphs" textLength="30.61">14.33%</text>
<text class="v" x="460.65" y="306" lengthAdjust="spacingAndGlyphs" textLength="30.61">14.12%</text>
<text class="v" x="541.15" y="306" lengthAdjust="spacingAndGlyphs" textLength="30.61">14.15%</text>
<text class="v" x="621.65" y="306" lengthAdjust="spacingAndGlyphs" textLength="30.61">14.20%</text>
<text class="v" x="702.15" y="306" lengthAdjust="spacingAndGlyphs" textLength="30.61">14.44%</text>
<text class="v" x="782.65" y="306" lengthAdjust="spacingAndGlyphs" textLength="30.61">14.30%</text>
<text class="v" x="863.15" y="306" lengthAdjust="spacingAndGlyphs" textLength="30.61">14.42%</text>
<text class="v" x="943.65" y="306" lengthAdjust="spacingAndGlyphs" textLength="30.61">14.03%</text>
<text class="v" x="1024.15" y="306" lengthAdjust="spacingAndGlyphs" textLength="30.61">13.71%</text>
</g>
<g filter="url(#l10)"><text class="l" x="85.75" y="335" lengthAdjust="spacingAndGlyphs" textLength="55.18">Multiplayer</text></g>
<g filter="url(#t10)">
<text class="v" x="138.65" y="334" lengthAdjust="spacingAndGlyphs" textLength="25.64">6.36%</text>
<text class="v" x="219.15" y="334" lengthAdjust="spacingAndGlyphs" textLength="25.64">6.70%</text>
<text class="v" x="299.65" y="334" lengthAdjust="spacingAndGlyphs" textLength="25.64">6.48%</text>
<text class="v" x="380.15" y="334" lengthAdjust="spacingAndGlyphs" textLength="25.64">6.32%</text>
<text class="v" x="460.65" y="334" lengthAdjust="spacingAndGlyphs" textLength="25.64">5.90%</text>
<text class="v" x="541.15" y="334" lengthAdjust="spacingAndGlyphs" textLength="25.64">5.70%</text>
<text class="v" x="621.65" y="334" lengthAdjust="spacingAndGlyphs" textLength="25.64">5.63%</text>
<text class="v" x="702.15" y="334" lengthAdjust="spacingAndGlyphs" textLength="25.64">5.53%</text>
<text class="v" x="782.65" y="334" lengthAdjust="spacingAndGlyphs" textLength="25.64">5.89%</text>
<text class="v" x="863.15" y="334" lengthAdjust="spacingAndGlyphs" textLength="25.64">6.09%</text>
<text class="v" x="943.65" y="334" lengthAdjust="spacingAndGlyphs" textLength="25.64">6.02%</text>
<text class="v" x="1024.15" y="334" lengthAdjust="spacingAndGlyphs" textLength="25.64">5.79%</text>
</g>
<g filter="url(#l11)"><text class="l" x="85.75" y="363" lengthAdjust="spacingAndGlyphs" textLength="60.04">Role Playing</text></g>
<g filter="url(#t11)">
<text class="v" x="138.65" y="363" lengthAdjust="spacingAndGlyphs" textLength="25.64">7.80%</text>
<text class="v" x="219.15" y="363" lengthAdjust="spacingAndGlyphs" textLength="25.64">7.73%</text>
<text class="v" x="299.65" y="363" lengthAdjust="spacingAndGlyphs" textLength="25.64">7.82%</text>
<text class="v" x="380.15" y="363" lengthAdjust="spacingAndGlyphs" textLength="25.64">7.27%</text>
<text class="v" x="460.65" y="363" lengthAdjust="spacingAndGlyphs" textLength="25.64">7.36%</text>
<text class="v" x="541.15" y="363" lengthAdjust="spacingAndGlyphs" textLength="25.64">7.49%</text>
<text class="v" x="621.65" y="363" lengthAdjust="spacingAndGlyphs" textLength="25.64">7.49%</text>
<text class="v" x="702.15" y="363" lengthAdjust="spacingAndGlyphs" textLength="25.64">7.35%</text>
<text class="v" x="782.65" y="363" lengthAdjust="spacingAndGlyphs" textLength="25.64">7.61%</text>
<text class="v" x="863.15" y="363" lengthAdjust="spacingAndGlyphs" textLength="25.64">7.38%</text>
<text class="v" x="943.65" y="363" lengthAdjust="spacingAndGlyphs" textLength="25.64">7.47%</text>
<text class="v" x="1024.15" y="363" lengthAdjust="spacingAndGlyphs" textLength="25.64">6.95%</text>
</g>
<g filter="url(#l12)"><text class="l" x="85.75" y="392" lengthAdjust="spacingAndGlyphs" textLength="53.44">Simulation</text></g>
<g filter="url(#t12)">
<text class="v" x="138.65" y="391" lengthAdjust="spacingAndGlyphs" textLength="25.64">5.85%</text>
<text class="v" x="219.15" y="391" lengthAdjust="spacingAndGlyphs" textLength="25.64">5.83%</text>
<text class="v" x="299.65" y="391" lengthAdjust="spacingAndGlyphs" textLength="25.64">5.55%</text>
<text class="v" x="380.15" y="391" lengthAdjust="spacingAndGlyphs" textLength="25.64">5.34%</text>
<text class="v" x="460.65" y="391" lengthAdjust="spacingAndGlyphs" textLength="25.64">5.45%</text>
<text class="v" x="541.15" y="391" lengthAdjust="spacingAndGlyphs" textLength="25.64">5.75%</text>
<text class="v" x="621.65" y="391" lengthAdjust="spacingAndGlyphs" textLength="25.64">5.57%</text>
<text class="v" x="702.15" y="391" lengthAdjust="spacingAndGlyphs" textLength="25.64">5.40%</text>
<text class="v" x="782.65" y="391" lengthAdjust="spacingAndGlyphs" textLength="25.64">5.67%</text>
<text class="v" x="863.15" y="391" lengthAdjust="spacingAndGlyphs" textLength="25.64">5.74%</text>
<text class="v" x="943.65" y="391" lengthAdjust="spacingAndGlyphs" textLength="25.64">5.86%</text>
<text class="v" x="1024.15" y="391" lengthAdjust="spacingAndGlyphs" textLength="25.64">5.68%</text>
</g>
<g filter="url(#l13)"><text class="l" x="85.75" y="420" lengthAdjust="spacingAndGlyphs" textLength="41.12">Strategy</text></g>
<g filter="url(#t13)">
<text class="v" x="138.65" y="419" lengthAdjust="spacingAndGlyphs" textLength="30.61">10.42%</text>
<text class="v" x="219.15" y="419" lengthAdjust="spacingAndGlyphs" textLength="30.61">10.08%</text>
<text class="v" x="299.65" y="419" lengthAdjust="spacingAndGlyphs" textLength="25.64">9.72%</text>
<text class="v" x="380.15" y="419" lengthAdjust="spacingAndGlyphs" textLength="25.64">9.10%</text>
<text class="v" x="460.65" y="419" lengthAdjust="spacingAndGlyphs" textLength="25.64">9.18%</text>
<text class="v" x="541.15" y="419" lengthAdjust="spacingAndGlyphs" textLength="25.64">9.32%</text>
<text class="v" x="621.65" y="419" lengthAdjust="spacingAndGlyphs" textLength="25.64">9.07%</text>
<text class="v" x="702.15" y="419" lengthAdjust="spacingAndGlyphs" textLength="25.64">9.49%</text>
<text class="v" x="782.65" y="419" lengthAdjust="spacingAndGlyphs" textLength="25.64">9.48%</text>
<text class="v" x="863.15" y="419" lengthAdjust="spacingAndGlyphs" textLength="25.64">9.34%</text>
<text class="v" x="943.65" y="419" lengthAdjust="spacingAndGlyphs" textLength="25.64">9.42%</text>
<text class="v" x="1024.15" y="419" lengthAdjust="spacingAndGlyphs" textLength="25.64">9.48%</text>
</g>
<g filter="url(#l14)"><text class="l" x="85.75" y="448" lengthAdjust="spacingAndGlyphs" textLength="32.94">Racing</text></g>
<g filter="url(#t14)">
<text class="v" x="138.65" y="447" lengthAdjust="spacingAndGlyphs" textLength="25.64">6.24%</text>
<text class="v" x="219.15" y="447" lengthAdjust="spacingAndGlyphs" textLength="25.64">6.08%</text>
<text class="v" x="299.65" y="447" lengthAdjust="spacingAndGlyphs" textLength="25.64">5.95%</text>
<text class="v" x="380.15" y="447" lengthAdjust="spacingAndGlyphs" textLength="25.64">5.61%</text>
<text class="v" x="460.65" y="447" lengthAdjust="spacingAndGlyphs" textLength="25.64">5.63%</text>
<text class="v" x="541.15" y="447" lengthAdjust="spacingAndGlyphs" textLength="25.64">5.68%</text>
<text class="v" x="621.65" y="447" lengthAdjust="spacingAndGlyphs" textLength="25.64">5.79%</text>
<text class="v" x="702.15" y="447" lengthAdjust="spacingAndGlyphs" textLength="25.64">5.75%</text>
<text class="v" x="782.65" y="447" lengthAdjust="spacingAndGlyphs" textLength="25.64">5.95%</text>
<text class="v" x="863.15" y="447" lengthAdjust="spacingAndGlyphs" textLength="25.64">6.00%</text>
<text class="v" x="943.65" y="447" lengthAdjust="spacingAndGlyphs" textLength="25.64">6.04%</text>
<text class="v" x="1024.15" y="447" lengthAdjust="spacingAndGlyphs" textLength="25.64">5.62%</text>
</g>
<g filter="url(#l15)"><text class="l" x="85.75" y="476" lengthAdjust="spacingAndGlyphs" textLength="31.88">Sports</text></g>
<g filter="url(#t15)">
<text class="v" x="138.65" y="476" lengthAdjust="spacingAndGlyphs" textLength="25.64">7.25%</text>
<text class="v" x="219.15" y="476" lengthAdjust="spacingAndGlyphs" textLength="25.64">7.32%</text>
<text class="v" x="299.65" y="476" lengthAdjust="spacingAndGlyphs" textLength="25.64">7.11%</text>
<text class="v" x="380.15" y="476" lengthAdjust="spacingAndGlyphs" textLength="25.64">6.65%</text>
<text class="v" x="460.65" y="476" lengthAdjust="spacingAndGlyphs" textLength="25.64">6.53%</text>
<text class="v" x="541.15" y="476" lengthAdjust="spacingAndGlyphs" textLength="25.64">6.51%</text>
<text class="v" x="621.65" y="476" lengthAdjust="spacingAndGlyphs" textLength="25.64">6.53%</text>
<text class="v" x="702.15" y="476" lengthAdjust="spacingAndGlyphs" textLength="25.64">6.53%</text>
<text class="v" x="782.65" y="476" lengthAdjust="spacingAndGlyphs" textLength="25.64">6.88%</text>
<text class="v" x="863.15" y="476" lengthAdjust="spacingAndGlyphs" textLength="25.64">7.04%</text>
<text class="v" x="943.65" y="476" lengthAdjust="spacingAndGlyphs" textLength="25.64">7.10%</text>
<text class="v" x="1024.15" y="476" lengthAdjust="spacingAndGlyphs" textLength="25.64">6.85%</text>
</g>
</svg></body></html>
